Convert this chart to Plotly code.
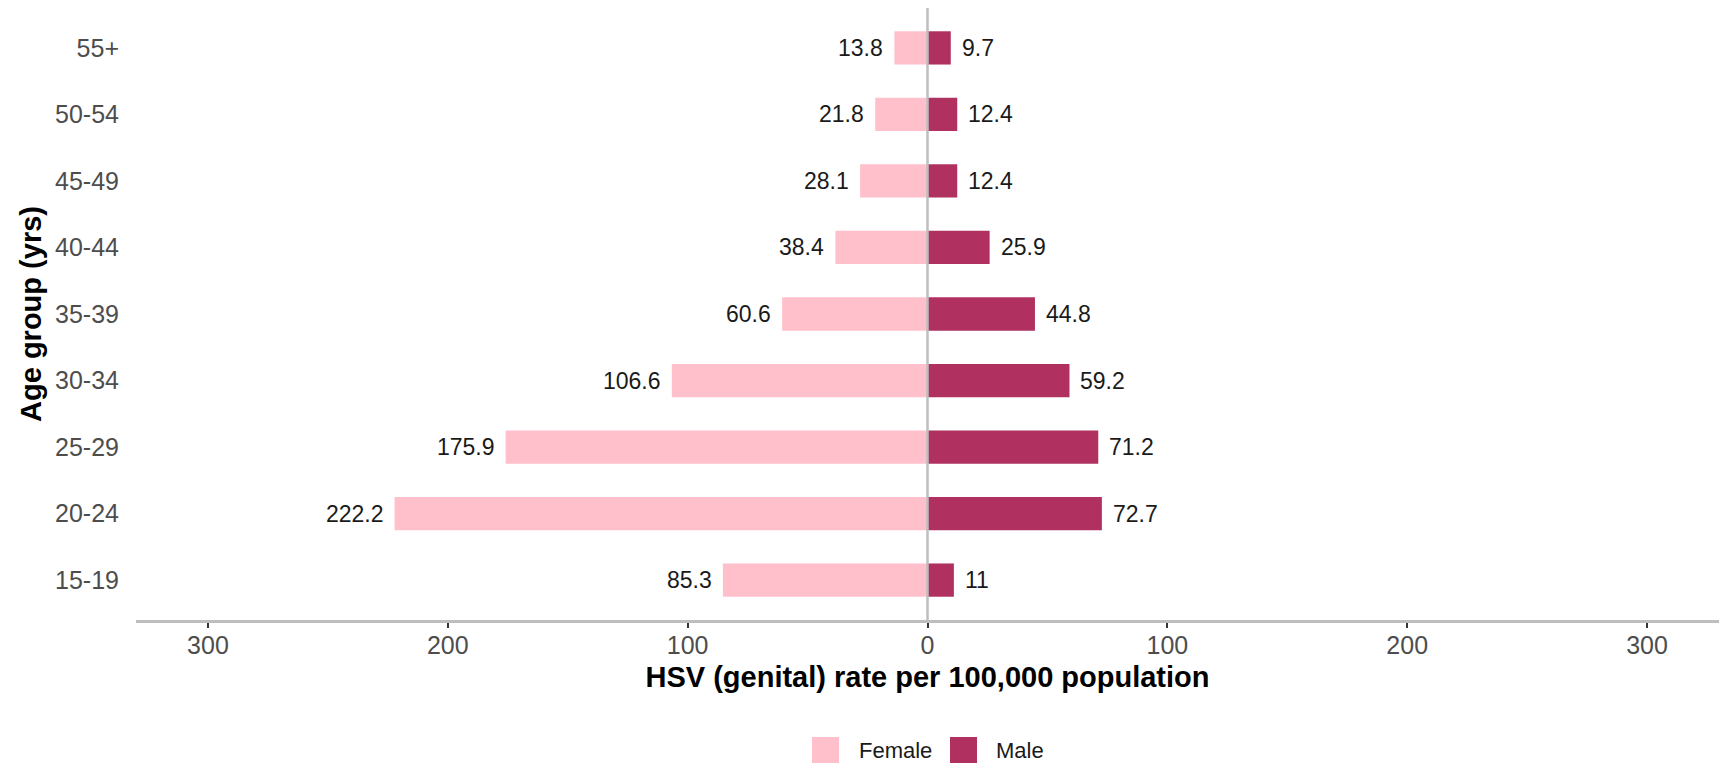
import plotly.graph_objects as go

age_groups = ["15-19", "20-24", "25-29", "30-34", "35-39", "40-44", "45-49", "50-54", "55+"]
female = [85.3, 222.2, 175.9, 106.6, 60.6, 38.4, 28.1, 21.8, 13.8]
male = [11, 72.7, 71.2, 59.2, 44.8, 25.9, 12.4, 12.4, 9.7]
tick_vals = [-300, -200, -100, 0, 100, 200, 300]
tick_text = ["300", "200", "100", "0", "100", "200", "300"]
series_names = ["Female", "Male"]

female_color = "#FFC0CB"
male_color = "#B03060"
font_family = "Liberation Sans, Arial, sans-serif"

W, H = 1726, 764
ML, MR, MT, MB = 136, 7, 8, 144

fig = go.Figure()
fig.add_trace(go.Bar(
    y=age_groups, x=[-v for v in female], orientation="h", width=0.5,
    marker=dict(color=female_color, line=dict(width=0)), name=series_names[0], showlegend=False,
    hovertemplate="%{y}: %{customdata}<extra>Female</extra>", customdata=female,
))
fig.add_trace(go.Bar(
    y=age_groups, x=male, orientation="h", width=0.5,
    marker=dict(color=male_color, line=dict(width=0)), name=series_names[1], showlegend=False,
    hovertemplate="%{y}: %{x}<extra>Male</extra>",
))

for a, f, m in zip(age_groups, female, male):
    fig.add_annotation(x=-f, y=a, text=f"{f:g}", xanchor="right", xshift=-9, showarrow=False,
                       font=dict(size=23, color="#1a1a1a", family=font_family))
    fig.add_annotation(x=m, y=a, text=f"{m:g}", xanchor="left", xshift=9, showarrow=False,
                       font=dict(size=23, color="#1a1a1a", family=font_family))

fig.add_shape(type="line", xref="x", yref="paper", x0=0, x1=0, y0=0, y1=1,
              line=dict(color="#BEBEBE", width=2.5), layer="above")

# legend drawn as key squares + labels below the plot (paper coordinates)
plot_w, plot_h = W - ML - MR, H - MT - MB
def px_x(p):
    return (p - ML) / plot_w
def px_y(p):
    return (H - MB - p) / plot_h

legend_items = [(series_names[0], female_color, 812, 857), (series_names[1], male_color, 950, 994)]
for name, col, sx, tx in legend_items:
    fig.add_shape(type="rect", xref="paper", yref="paper",
                  x0=px_x(sx), x1=px_x(sx + 27), y0=px_y(763), y1=px_y(737),
                  fillcolor=col, line=dict(width=0))
    fig.add_annotation(xref="paper", yref="paper", x=px_x(tx), y=px_y(750), text=name,
                       xanchor="left", yanchor="middle", showarrow=False,
                       font=dict(size=22, color="#1a1a1a", family=font_family))

fig.update_layout(
    width=W, height=H,
    margin=dict(l=ML, r=MR, t=MT, b=MB, autoexpand=False),
    paper_bgcolor="white", plot_bgcolor="white",
    barmode="overlay",
    showlegend=False,
    font=dict(family=font_family),
    xaxis=dict(
        range=[-330, 330], tickvals=tick_vals, ticktext=tick_text,
        showgrid=False, zeroline=False, automargin=False,
        showline=True, linecolor="#BEBEBE", linewidth=2.5,
        ticks="outside", ticklen=5, tickwidth=2, tickcolor="#333333",
        ticklabelstandoff=-4,
        tickfont=dict(size=25, color="#4D4D4D"),
        title=dict(text="<b>HSV (genital) rate per 100,000 population</b>",
                   font=dict(size=29, color="black"), standoff=9),
    ),
    yaxis=dict(
        categoryorder="array", categoryarray=age_groups,
        range=[-0.6, len(age_groups) - 0.4],
        showgrid=False, zeroline=False, showline=False, automargin=False,
        ticks="", ticklabelstandoff=16,
        tickfont=dict(size=25, color="#4D4D4D"),
        title=dict(text="<b>Age group (yrs)</b>", font=dict(size=29, color="black"), standoff=4),
    ),
)

fig.write_html("out.html", config={"displayModeBar": False},
               post_script="document.body.style.margin='0px';")
